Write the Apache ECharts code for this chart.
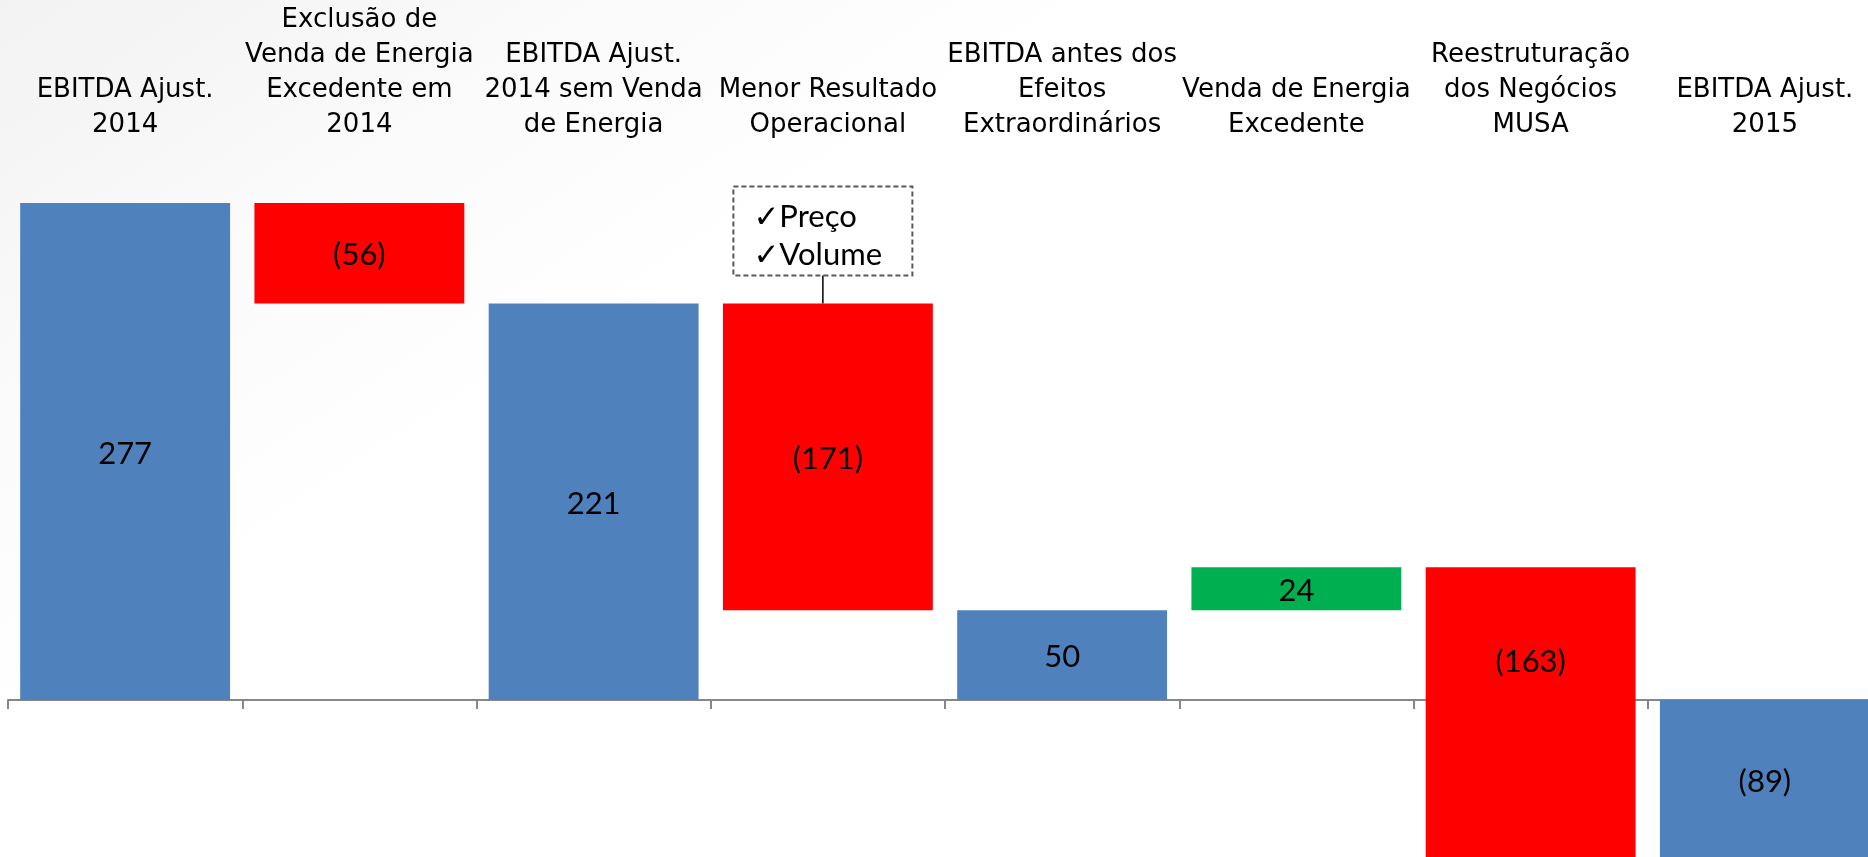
<!DOCTYPE html>
<html>
<head>
<meta charset="utf-8">
<script src="https://cdn.jsdelivr.net/npm/echarts@6/dist/echarts.min.js"></script>
<style>
  html, body { margin: 0; padding: 0; }
  #main { width: 1868px; height: 857px; }
</style>
</head>
<body>
<div id="main"></div>
<script>
// waterfall steps, left to right
const categories = [
  'EBITDA Ajust.\n2014',
  'Exclusão de\nVenda de Energia\nExcedente em\n2014',
  'EBITDA Ajust.\n2014 sem Venda\nde Energia',
  'Menor Resultado\nOperacional',
  'EBITDA antes dos\nEfeitos\nExtraordinários',
  'Venda de Energia\nExcedente',
  'Reestruturação\ndos Negócios\nMUSA',
  'EBITDA Ajust.\n2015'
];
const stepValues = [277, -56, 221, -171, 50, 24, -163, -89];
const isTotal = [true, false, true, false, true, false, false, true];
const noteLines = ['✓Preço', '✓Volume'];

const totalColor = '#4F81BD';
const downColor = '#FF0000';
const upColor = '#00B050';

// build [index, low, high, value, kind] rows
var running = 0;
var rows = [];
for (let i = 0; i < stepValues.length; i++) {
  let v = stepValues[i];
  let start, end, kind;
  if (isTotal[i]) {
    start = 0; end = v; running = v; kind = 'total';
  } else {
    start = running; end = running + v; running = end;
    kind = v < 0 ? 'down' : 'up';
  }
  rows.push([i, Math.min(start, end), Math.max(start, end), v, kind]);
}

function fmt(v) {
  return v < 0 ? '(' + Math.abs(v) + ')' : String(v);
}

var chart = echarts.init(document.getElementById('main'), null, { renderer: 'canvas' });

var option = {
  backgroundColor: {
    type: 'linear', x: 0, y: 0, x2: 0.3, y2: 1,
    colorStops: [
      { offset: 0, color: '#f2f2f2' },
      { offset: 0.35, color: '#fbfbfb' },
      { offset: 0.6, color: '#ffffff' },
      { offset: 1, color: '#ffffff' }
    ]
  },
  animation: false,
  grid: { left: 8, right: -14, top: 203, bottom: 0, outerBoundsMode: 'none' },
  xAxis: [
    {
      type: 'category',
      data: categories,
      position: 'bottom',
      axisLine: { onZero: true, lineStyle: { color: '#878787', width: 2 } },
      axisTick: { show: true, length: 9, lineStyle: { color: '#878787', width: 2 } },
      axisLabel: { show: false },
      splitLine: { show: false }
    },
    {
      type: 'category',
      data: categories,
      position: 'top',
      axisLine: { show: false },
      axisTick: { show: false },
      axisLabel: {
        interval: 0,
        margin: 60,
        fontFamily: 'DejaVu Sans',
        fontSize: 26,
        lineHeight: 35,
        color: '#000'
      }
    }
  ],
  yAxis: {
    type: 'value',
    min: -87.5,
    max: 277,
    show: false,
    splitLine: { show: false }
  },
  series: [
    {
      type: 'custom',
      xAxisIndex: 0,
      yAxisIndex: 0,
      data: rows,
      encode: { x: 0, y: [1, 2] },
      renderItem: function (params, api) {
        let i = api.value(0);
        let lo = api.value(1);
        let hi = api.value(2);
        let row = rows[params.dataIndex];
        let kind = row[4];
        let top = api.coord([i, hi]);
        let bottom = api.coord([i, lo]);
        let w = api.size([1, 0])[0] * 0.896;
        let fill = kind === 'total' ? totalColor : (kind === 'down' ? downColor : upColor);
        // the big restructuring bar has its label raised in the original
        let off = (i === 6) ? [0, -51] : [0, 2];
        return {
          type: 'rect',
          shape: { x: top[0] - w / 2, y: top[1], width: w, height: bottom[1] - top[1] },
          style: { fill: fill },
          textContent: {
            style: {
              text: fmt(row[3]),
              fontFamily: 'Lato',
              fontSize: 31,
              fill: '#000'
            }
          },
          textConfig: { position: 'inside', offset: off }
        };
      }
    }
  ]
};

chart.setOption(option);

// callout box above "Menor Resultado Operacional"
var anchor = chart.convertToPixel({ xAxisIndex: 0, yAxisIndex: 0 }, [3, rows[3][2]]);
var bx = anchor[0] - 5;
var boxW = 179, boxH = 89, gap = 28;
var boxTop = anchor[1] - gap - boxH;
chart.setOption({
  graphic: [
    {
      type: 'rect',
      shape: { x: bx - boxW / 2, y: boxTop, width: boxW, height: boxH },
      style: { fill: 'rgba(255,255,255,0)', stroke: '#595959', lineWidth: 2, lineDash: [5, 3] }
    },
    {
      type: 'line',
      shape: { x1: bx, y1: boxTop + boxH, x2: bx, y2: anchor[1] },
      style: { stroke: '#000', lineWidth: 1.5 }
    },
    {
      type: 'text',
      x: bx - boxW / 2 + 20,
      y: boxTop + 31,
      style: { text: noteLines[0], fontFamily: 'Lato, DejaVu Sans', fontSize: 31, fill: '#000', verticalAlign: 'middle' }
    },
    {
      type: 'text',
      x: bx - boxW / 2 + 20,
      y: boxTop + 69,
      style: { text: noteLines[1], fontFamily: 'Lato, DejaVu Sans', fontSize: 31, fill: '#000', verticalAlign: 'middle' }
    }
  ]
});

window.addEventListener('resize', chart.resize);
</script>
</body>
</html>
